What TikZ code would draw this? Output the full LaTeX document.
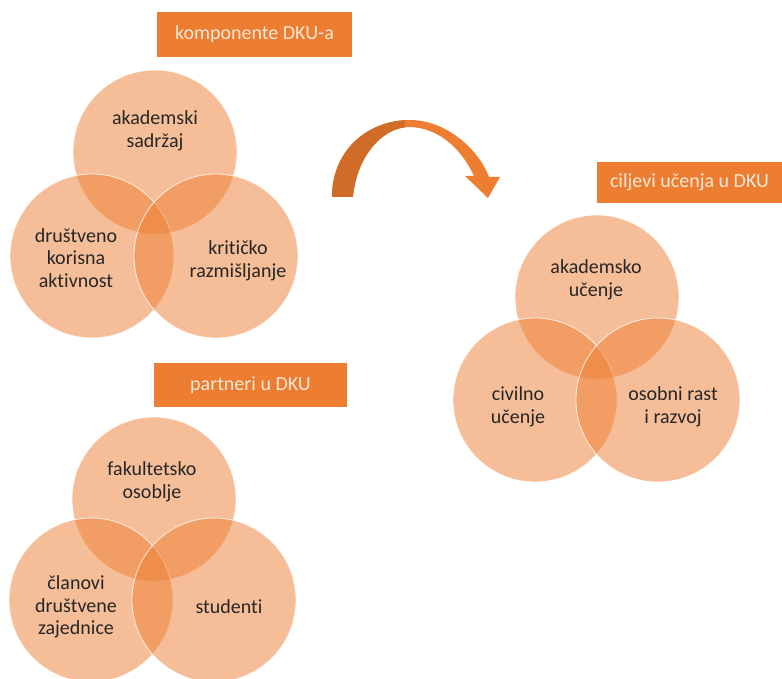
\documentclass[tikz,border=0pt]{standalone}
\usepackage{fontspec}
\setmainfont[Ligatures=NoCommon]{Carlito}
\definecolor{orng}{HTML}{ED7D31}
\definecolor{orngdark}{HTML}{D06C28}
\definecolor{banntext}{HTML}{F4E8D8}
\definecolor{txt}{HTML}{262626}
\begin{document}
\begin{tikzpicture}[x=1pt,y=-1pt,
  venn/.style={circle,minimum size=164pt,inner sep=0pt,fill=orng,fill opacity=0.5,draw=white,draw opacity=0.8,line width=0.8pt},
  lbl/.style={align=center,text=txt,font=\fontsize{20}{22.5}\selectfont,inner sep=0pt},
  banner/.style={fill=orng,text=banntext,font=\fontsize{20}{22}\selectfont,inner sep=0pt,anchor=center}]
\useasboundingbox (0,0) rectangle (782,679);
% banners
\node[banner,minimum width=195pt,minimum height=45pt] (b1) at (254.5,34.5) {komponente DKU-a};
\node[banner,minimum width=185pt,minimum height=41pt] (b2) at (689.5,182.5) {ciljevi učenja u DKU};
\node[banner,minimum width=193pt,minimum height=44pt] (b3) at (250.5,385) {partneri u DKU};
% venn 1
\node[venn] (v1t) at (155,152) {};
\node[venn] (v1l) at (92,256) {};
\node[venn] (v1r) at (216,256) {};
\node[lbl] (t1t) at (155,131) {akademski\\sadržaj};
\node[lbl] (t1l) at (76,258) {društveno\\korisna\\aktivnost};
\node[lbl] (t1r) at (238,261) {kritičko\\razmišljanje};
% venn 2
\node[venn] (v2t) at (597,297) {};
\node[venn] (v2l) at (535,400) {};
\node[venn] (v2r) at (658,400) {};
\node[lbl] (t2t) at (596,280) {akademsko\\učenje};
\node[lbl] (t2l) at (518,407) {civilno\\učenje};
\node[lbl] (t2r) at (673,407) {osobni rast\\i razvoj};
% venn 3
\node[venn] (v3t) at (154,499) {};
\node[venn] (v3l) at (91,600) {};
\node[venn] (v3r) at (214,600) {};
\node[lbl] (t3t) at (152,482) {fakultetsko\\osoblje};
\node[lbl] (t3l) at (76,607) {članovi\\društvene\\zajednice};
\node[lbl] (t3r) at (229,607) {studenti};
% curved arrow
\fill[orng] (332,197) .. controls (332,150) and (368,120) .. (410,120)
  .. controls (445,120) and (478,148) .. (489,177) -- (500,177) -- (488,198)
  -- (465,176) -- (474,176) .. controls (462,150) and (440,128) .. (410,127)
  .. controls (380,127) and (356,160) .. (353,197) -- cycle;
\begin{scope}
\clip (320,110) rectangle (405,200);
\fill[orngdark] (332,197) .. controls (332,150) and (368,120) .. (410,120)
  -- (410,127) .. controls (380,127) and (356,160) .. (353,197) -- cycle;
\end{scope}
\end{tikzpicture}
\end{document}
